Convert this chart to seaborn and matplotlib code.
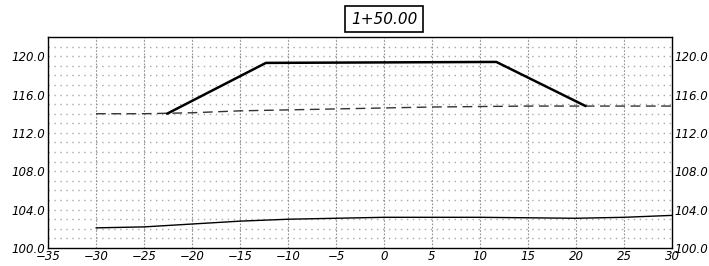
import numpy as np
import pandas as pd
import seaborn as sns
import matplotlib.pyplot as plt
from matplotlib.ticker import FormatStrFormatter

sns.set_style("white")
plt.rcParams['font.family'] = ['DejaVu Sans']
plt.rcParams['text.color'] = 'black'
plt.rcParams['xtick.color'] = 'black'
plt.rcParams['ytick.color'] = 'black'

# station label
station = "1+50.00"

# existing ground (dashed)
existX = [-30, -25, -20, -15, -10, -5, 0, 5, 10, 15, 20, 25, 30]
existY = [114.0, 114.0, 114.1, 114.3, 114.4, 114.5, 114.6, 114.7, 114.75, 114.8, 114.8, 114.8, 114.8]

# design section (thick)
designX = [-22.6, -12.3, 11.7, 21.0]
designY = [114.0, 119.3, 119.4, 114.8]

# lower layer (thin)
lowerX = [-30, -25, -20, -15, -10, -5, 0, 5, 10, 15, 20, 25, 30]
lowerY = [102.1, 102.2, 102.5, 102.8, 103.0, 103.1, 103.2, 103.2, 103.2, 103.15, 103.1, 103.2, 103.4]

xTicks = list(range(-35, 31, 5))
yTicks = [100, 104, 108, 112, 116, 120]

dfExist = pd.DataFrame({"x": existX, "y": existY})
dfDesign = pd.DataFrame({"x": designX, "y": designY})
dfLower = pd.DataFrame({"x": lowerX, "y": lowerY})

fig = plt.figure(figsize=(7.09, 2.66), dpi=100)
ax = fig.add_axes([48 / 709, 1 - 248 / 266, 624 / 709, 211 / 266])

# grid: dotted rows every unit, dashed columns every 5
for yv in range(101, 122):
    ax.axhline(yv, color="#a8a8a8", lw=1.0, ls=(0, (1, 3.3)), zorder=0)
for xv in range(-30, 30, 5):
    ax.axvline(xv, color="#909090", lw=0.8, ls=(0, (1.5, 1.5)), zorder=0)

sns.lineplot(ax=ax, data=dfExist, x="x", y="y", sort=False, color="#333333",
             lw=1.0, linestyle=(0, (7, 4)), zorder=3)
sns.lineplot(ax=ax, data=dfDesign, x="x", y="y", sort=False, color="black",
             lw=1.8, zorder=4)
sns.lineplot(ax=ax, data=dfLower, x="x", y="y", sort=False, color="black",
             lw=1.0, zorder=3)

ax.set(xlim=(-35, 30), ylim=(100, 122), xlabel="", ylabel="")
ax.set_xticks(xTicks)
ax.set_yticks(yTicks)
ax.yaxis.set_major_formatter(FormatStrFormatter("%.1f"))
ax.tick_params(axis="both", length=0, labelsize=8.5, labelcolor="black")
ax.tick_params(axis="x", pad=1.5)
ax.tick_params(axis="y", pad=2, labelright=True)
for lab in ax.get_xticklabels() + ax.get_yticklabels():
    lab.set_style("italic")
for t in ax.yaxis.get_major_ticks():
    t.label2.set_style("italic")
    t.label2.set_fontsize(8.5)

for s in ax.spines.values():
    s.set_color("black")
    s.set_linewidth(1.0)

fig.text(384 / 709, 1 - 19 / 266, station, ha="center", va="center",
         fontsize=11, style="italic", color="black",
         bbox=dict(boxstyle="square,pad=0.35", fc="white", ec="black", lw=1.2))

plt.savefig("out.png", dpi=100)
